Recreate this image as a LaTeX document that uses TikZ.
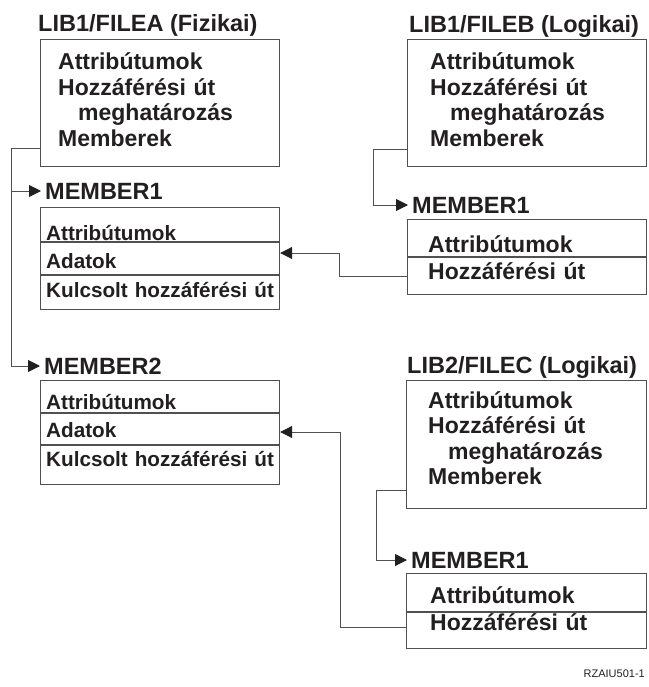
\documentclass[tikz,border=0pt]{standalone}
\usepackage{fontspec}
\setmainfont{Liberation Sans}
\usepackage{xcolor}
\usepackage{tikz}
\usetikzlibrary{arrows.meta}
\usetikzlibrary{calc}
\usetikzlibrary{positioning}

\definecolor{ink}{HTML}{231F20}
\definecolor{rulegray}{HTML}{505050}

\tikzset{
  boxtitle/.style={anchor=base west, inner sep=0pt, text=ink,
    font=\fontsize{23.5}{26}\selectfont\bfseries},
  memlabel/.style={anchor=west, inner xsep=4pt, inner ysep=0pt, text=ink,
    font=\fontsize{23.5}{26}\selectfont\bfseries},
  filebox/.style={draw=rulegray, line width=1.2pt, anchor=north west,
    inner sep=0pt, minimum width=239pt, minimum height=127pt},
  membox/.style={draw=rulegray, line width=1.2pt, anchor=north west,
    inner sep=0pt, minimum width=239pt},
  filetext/.style={anchor=base west, inner sep=0pt, text width=232pt,
    align=left, text=ink, font=\fontsize{23}{25.5}\selectfont\bfseries},
  logtext/.style={filetext, font=\fontsize{23}{27.5}\selectfont\bfseries},
  memtext/.style={filetext, font=\fontsize{20.7}{28.5}\selectfont\bfseries},
  divider/.style={draw=rulegray, line width=1.1pt},
  link/.style={draw=rulegray, line width=1pt,
    -{Triangle[length=12pt,width=12pt,color=ink]}},
}

\begin{document}
\begin{tikzpicture}[x=1pt,y=-1pt]
  \useasboundingbox (0,0) rectangle (648,687);
  %\draw[help lines,step=50] (0,0) grid (648,687);

  % LIB1/FILEA
  \node[boxtitle] (fileaTitle) at (38,32) {LIB1/FILEA (Fizikai)};
  \node[filebox] (filea) at (40,39) {};
  \node[filetext] (fileaTxt) at ([shift={(18pt,-31pt)}]filea.north west)
    {Attribútumok\\Hozzáférési út\\\hspace*{20pt}meghatározás\\Memberek};

  \node[memlabel] (mem1aLbl) at (41,191) {MEMBER1};
  \node[membox,minimum height=102pt] (mem1a) at (40,207) {};
  \draw[divider] ([yshift=-35pt]mem1a.north west) -- ([yshift=-35pt]mem1a.north east);
  \draw[divider] ([yshift=-68pt]mem1a.north west) -- ([yshift=-68pt]mem1a.north east);
  \node[memtext] (mem1aTxt) at ([shift={(6pt,-33pt)}]mem1a.north west)
    {Attribútumok\\Adatok\\Kulcsolt hozzáférési út};

  \node[memlabel] (mem2aLbl) at (40,366) {MEMBER2};
  \node[membox,minimum height=104pt] (mem2a) at (40,380) {};
  \draw[divider] ([yshift=-33pt]mem2a.north west) -- ([yshift=-33pt]mem2a.north east);
  \draw[divider] ([yshift=-65pt]mem2a.north west) -- ([yshift=-65pt]mem2a.north east);
  \node[memtext] (mem2aTxt) at ([shift={(6pt,-29pt)}]mem2a.north west)
    {Attribútumok\\Adatok\\Kulcsolt hozzáférési út};

  % LIB1/FILEB
  \node[boxtitle] (filebTitle) at (409,33) {LIB1/FILEB (Logikai)};
  \node[filebox] (fileb) at (407,39) {};
  \node[filetext] (filebTxt) at ([shift={(23pt,-31pt)}]fileb.north west)
    {Attribútumok\\Hozzáférési út\\\hspace*{20pt}meghatározás\\Memberek};

  \node[memlabel] (mem1bLbl) at (408,205) {MEMBER1};
  \node[membox,minimum height=75pt] (mem1b) at (407,219) {};
  \draw[divider] ([yshift=-38pt]mem1b.north west) -- ([yshift=-38pt]mem1b.north east);
  \node[logtext] (mem1bTxt) at ([shift={(21pt,-33pt)}]mem1b.north west)
    {Attribútumok\\Hozzáférési út};

  % LIB2/FILEC
  \node[boxtitle] (filecTitle) at (407,373) {LIB2/FILEC (Logikai)};
  \node[filebox,minimum width=240pt,minimum height=128pt] (filec) at (406,380) {};
  \node[filetext] (filecTxt) at ([shift={(22pt,-28pt)}]filec.north west)
    {Attribútumok\\Hozzáférési út\\\hspace*{20pt}meghatározás\\Memberek};

  \node[memlabel] (mem1cLbl) at (407,560) {MEMBER1};
  \node[membox,minimum width=240pt,minimum height=75pt] (mem1c) at (406,573) {};
  \draw[divider] ([yshift=-39pt]mem1c.north west) -- ([yshift=-39pt]mem1c.north east);
  \node[logtext] (mem1cTxt) at ([shift={(24pt,-30pt)}]mem1c.north west)
    {Attribútumok\\Hozzáférési út};

  % connectors
  \coordinate (faOut) at ([yshift=19pt]filea.south west);
  \coordinate (fbOut) at ([yshift=18pt]fileb.south west);
  \coordinate (fcOut) at ([yshift=19pt]filec.south west);
  \coordinate (m1bOut) at ([yshift=19pt]mem1b.south west);
  \coordinate (m1cOut) at ([yshift=22pt]mem1c.south west);
  \coordinate (m1aIn) at ([yshift=-46pt]mem1a.north east);
  \coordinate (m2aIn) at ([yshift=-52pt]mem2a.north east);

  \draw[link] (faOut) -- ++(-29pt,0) |- (mem1aLbl.west);
  \draw[link] (faOut) -- ++(-29pt,0) |- (mem2aLbl.west);
  \draw[link] (fbOut) -- ++(-34pt,0) |- (mem1bLbl.west);
  \draw[link] (fcOut) -- ++(-30pt,0) |- (mem1cLbl.west);
  \draw[link] (m1bOut) -- ++(-68pt,0) |- (m1aIn);
  \draw[link] (m1cOut) -- ++(-66pt,0) |- (m2aIn);

  \node[anchor=base east, inner sep=0pt, text=ink,
    font=\fontsize{11}{13}\selectfont] (figId) at (645,677) {RZAIU501-1};
\end{tikzpicture}
\end{document}
